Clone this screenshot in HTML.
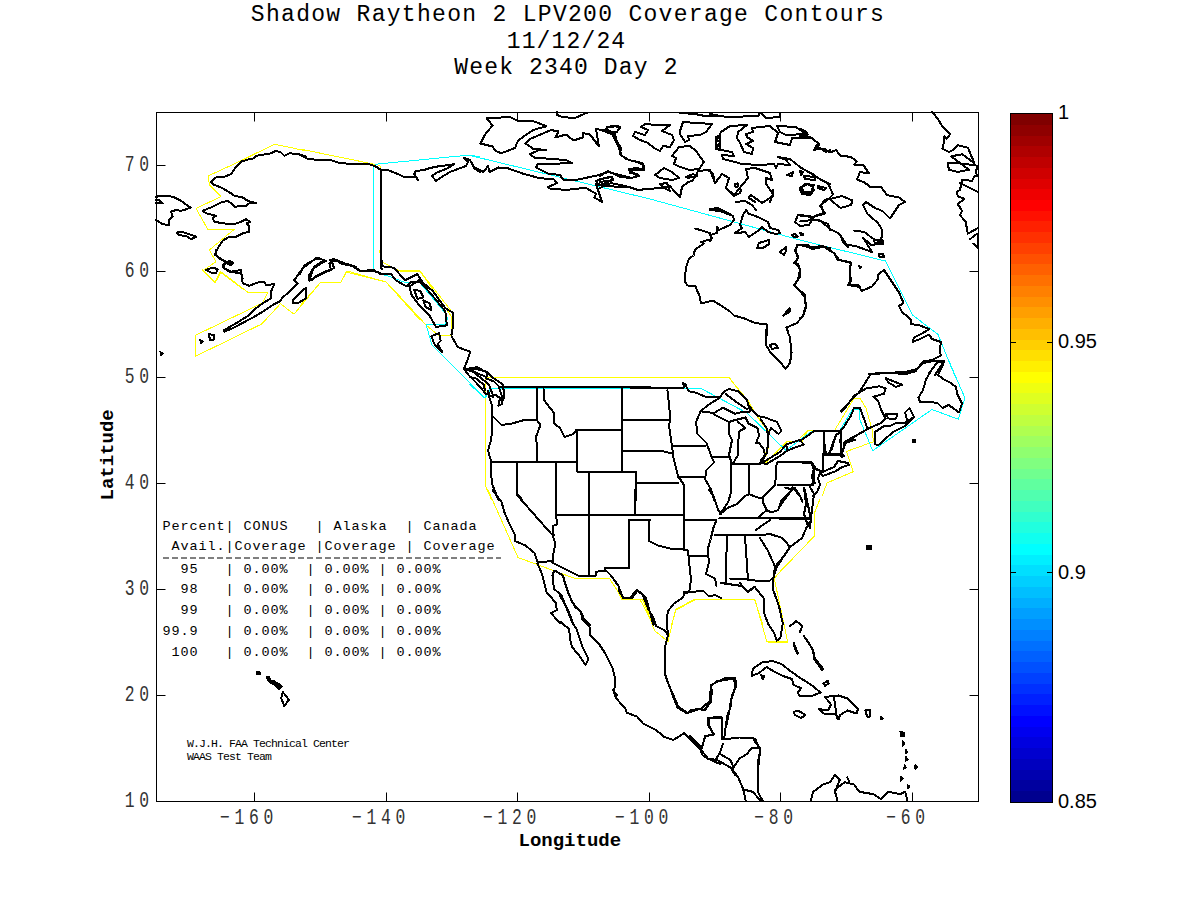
<!DOCTYPE html>
<html><head><meta charset="utf-8"><style>
html,body{margin:0;padding:0;background:#fff;width:1200px;height:900px;overflow:hidden;position:relative}
.t{position:absolute;white-space:pre;font-family:"Liberation Mono",monospace;color:#000;line-height:1}
.title{font-size:23px;letter-spacing:1.3px;left:0;width:1133px;text-align:center}
.tick{font-size:22.5px;letter-spacing:6.5px;color:#333}
.lab{font-size:19px;font-weight:bold}
.tbl{font-size:13.5px;letter-spacing:0.9px;left:162.5px}
.foot{font-size:11.5px;letter-spacing:-0.9px;left:187px}
.cb{position:absolute;font-family:"Liberation Sans",sans-serif;font-size:20px;line-height:1;left:1058px}
#bar{position:absolute;left:1010px;top:113px;width:41px;height:688px;border:1px solid #000;background:linear-gradient(to bottom,rgb(128,0,0) 0.0000%,rgb(128,0,0) 1.5625%,rgb(143,0,0) 1.5625%,rgb(143,0,0) 3.1250%,rgb(159,0,0) 3.1250%,rgb(159,0,0) 4.6875%,rgb(175,0,0) 4.6875%,rgb(175,0,0) 6.2500%,rgb(191,0,0) 6.2500%,rgb(191,0,0) 7.8125%,rgb(207,0,0) 7.8125%,rgb(207,0,0) 9.3750%,rgb(223,0,0) 9.3750%,rgb(223,0,0) 10.9375%,rgb(239,0,0) 10.9375%,rgb(239,0,0) 12.5000%,rgb(255,0,0) 12.5000%,rgb(255,0,0) 14.0625%,rgb(255,16,0) 14.0625%,rgb(255,16,0) 15.6250%,rgb(255,32,0) 15.6250%,rgb(255,32,0) 17.1875%,rgb(255,48,0) 17.1875%,rgb(255,48,0) 18.7500%,rgb(255,64,0) 18.7500%,rgb(255,64,0) 20.3125%,rgb(255,80,0) 20.3125%,rgb(255,80,0) 21.8750%,rgb(255,96,0) 21.8750%,rgb(255,96,0) 23.4375%,rgb(255,112,0) 23.4375%,rgb(255,112,0) 25.0000%,rgb(255,128,0) 25.0000%,rgb(255,128,0) 26.5625%,rgb(255,143,0) 26.5625%,rgb(255,143,0) 28.1250%,rgb(255,159,0) 28.1250%,rgb(255,159,0) 29.6875%,rgb(255,175,0) 29.6875%,rgb(255,175,0) 31.2500%,rgb(255,191,0) 31.2500%,rgb(255,191,0) 32.8125%,rgb(255,207,0) 32.8125%,rgb(255,207,0) 34.3750%,rgb(255,223,0) 34.3750%,rgb(255,223,0) 35.9375%,rgb(255,239,0) 35.9375%,rgb(255,239,0) 37.5000%,rgb(255,255,0) 37.5000%,rgb(255,255,0) 39.0625%,rgb(239,255,16) 39.0625%,rgb(239,255,16) 40.6250%,rgb(223,255,32) 40.6250%,rgb(223,255,32) 42.1875%,rgb(207,255,48) 42.1875%,rgb(207,255,48) 43.7500%,rgb(191,255,64) 43.7500%,rgb(191,255,64) 45.3125%,rgb(175,255,80) 45.3125%,rgb(175,255,80) 46.8750%,rgb(159,255,96) 46.8750%,rgb(159,255,96) 48.4375%,rgb(143,255,112) 48.4375%,rgb(143,255,112) 50.0000%,rgb(128,255,128) 50.0000%,rgb(128,255,128) 51.5625%,rgb(112,255,143) 51.5625%,rgb(112,255,143) 53.1250%,rgb(96,255,159) 53.1250%,rgb(96,255,159) 54.6875%,rgb(80,255,175) 54.6875%,rgb(80,255,175) 56.2500%,rgb(64,255,191) 56.2500%,rgb(64,255,191) 57.8125%,rgb(48,255,207) 57.8125%,rgb(48,255,207) 59.3750%,rgb(32,255,223) 59.3750%,rgb(32,255,223) 60.9375%,rgb(16,255,239) 60.9375%,rgb(16,255,239) 62.5000%,rgb(0,255,255) 62.5000%,rgb(0,255,255) 64.0625%,rgb(0,239,255) 64.0625%,rgb(0,239,255) 65.6250%,rgb(0,223,255) 65.6250%,rgb(0,223,255) 67.1875%,rgb(0,207,255) 67.1875%,rgb(0,207,255) 68.7500%,rgb(0,191,255) 68.7500%,rgb(0,191,255) 70.3125%,rgb(0,175,255) 70.3125%,rgb(0,175,255) 71.8750%,rgb(0,159,255) 71.8750%,rgb(0,159,255) 73.4375%,rgb(0,143,255) 73.4375%,rgb(0,143,255) 75.0000%,rgb(0,128,255) 75.0000%,rgb(0,128,255) 76.5625%,rgb(0,112,255) 76.5625%,rgb(0,112,255) 78.1250%,rgb(0,96,255) 78.1250%,rgb(0,96,255) 79.6875%,rgb(0,80,255) 79.6875%,rgb(0,80,255) 81.2500%,rgb(0,64,255) 81.2500%,rgb(0,64,255) 82.8125%,rgb(0,48,255) 82.8125%,rgb(0,48,255) 84.3750%,rgb(0,32,255) 84.3750%,rgb(0,32,255) 85.9375%,rgb(0,16,255) 85.9375%,rgb(0,16,255) 87.5000%,rgb(0,0,255) 87.5000%,rgb(0,0,255) 89.0625%,rgb(0,0,239) 89.0625%,rgb(0,0,239) 90.6250%,rgb(0,0,223) 90.6250%,rgb(0,0,223) 92.1875%,rgb(0,0,207) 92.1875%,rgb(0,0,207) 93.7500%,rgb(0,0,191) 93.7500%,rgb(0,0,191) 95.3125%,rgb(0,0,175) 95.3125%,rgb(0,0,175) 96.8750%,rgb(0,0,159) 96.8750%,rgb(0,0,159) 98.4375%,rgb(0,0,143) 98.4375%,rgb(0,0,143) 100.0000%)}
</style></head><body>
<div class="t title" style="top:3.5px;left:1.5px;letter-spacing:1.3px">Shadow Raytheon 2 LPV200 Coverage Contours</div>
<div class="t title" style="top:30.5px;letter-spacing:1.15px">11/12/24</div>
<div class="t title" style="top:56.5px;letter-spacing:1.15px">Week 2340 Day 2</div>
<div id="bar"></div>
<svg width="1200" height="900" style="position:absolute;left:0;top:0">
<path d="M1011 342.5h5M1052 342.5h-5M1011 572.5h5M1052 572.5h-5" stroke="#000" stroke-width="1"/>
<g fill="none" stroke-linejoin="round" stroke-linecap="round" shape-rendering="crispEdges">
<path d="M306.0 150.8 274.3 144.2 241.0 160.8 208.5 175.8 209.3 185.0 221.0 196.7 196.0 208.3 207.7 229.2 234.3 229.2 209.3 250.0 216.0 261.7 202.7 270.8 215.2 282.5 221.0 272.5 244.3 290.0M300.0 149.0 378.0 165.0 380.0 166.0 380.0 261.0 388.0 265.0 400.0 271.0 420.0 271.0 452.0 312.0 454.0 320.0M300.0 306.0 320.0 283.0 341.0 282.0 346.0 272.0 386.0 282.0 420.0 320.0M202.5 270.0 215.2 282.0 220.5 271.5 248.2 292.5 267.7 292.5 262.5 303.0 195.7 335.2 195.7 356.2 261.7 324.0 280.5 303.7 294.0 314.2 320.2 282.7 336.0 282.7M330.0 282.0 341.0 282.0 347.0 271.0 386.0 282.0 406.0 303.0 426.0 325.0 438.0 335.0 452.0 335.0 451.0 316.0 420.0 271.0 398.0 270.0 381.6 262.0 379.6 250.0M485.0 430.0 485.0 377.0 510.0 377.0M800.0 438.0 807.5 430.5 814.2 430.5 834.5 430.5 854.0 398.2 860.0 398.2 866.0 408.0 872.0 429.0 873.5 441.7 846.5 451.5 853.2 471.7 827.0 483.0 822.5 495.0M640.0 377.2 728.5 377.2 748.0 400.5 758.5 418.5 767.5 430.5 767.5 453.0 761.5 462.7 766.0 462.7 787.0 441.7 802.0 441.7 808.0 430.5 820.0 430.5M485.0 377.7 650.0 377.7M485.0 377.7 485.0 485.0 491.7 500.0M630.0 377.0 729.0 377.0 757.5 416.0 768.0 429.5 768.0 449.0 760.5 462.5 766.5 462.5 787.5 441.5 799.5 441.5 808.5 430.2 810.0 430.2M488.0 490.0 518.0 557.5 575.0 578.5 609.5 578.5 623.0 599.5 642.5 599.5 650.0 614.5M640.0 599.5 653.5 625.0M671.5 625.0 676.0 610.0 695.5 599.5 754.7 599.5 763.0 625.0M773.5 578.5 814.0 536.5 814.0 514.0 820.0 499.0M617.0 590.0 621.5 599.0 642.5 599.0 654.5 630.5 668.0 641.7 675.5 609.5 695.0 599.0 740.0 599.0M766.5 640.0 768.0 642.2 787.5 642.2 787.5 640.0M740.0 599.1 754.7 599.1 766.9 641.9 787.7 641.9 774.2 578.3 791.3 560.0" stroke="#ffff00" stroke-width="1"/>
<path d="M480.0 157.0 470.0 155.0 378.0 164.0 373.0 166.0 373.0 271.0 380.0 274.0 388.0 276.0 404.0 282.0 420.0 283.0 446.0 314.0 448.0 320.0M373.6 250.0 373.6 271.0 388.0 276.0 404.0 282.0 420.0 282.0 445.0 313.0 446.0 324.0 426.0 324.4 432.0 345.0 458.0 371.0 485.0 398.0 492.0 388.0 510.0 388.0M470.0 155.5 650.0 199.0M800.0 240.0 824.0 246.0 885.5 261.0 912.5 315.0 938.0 334.5 954.5 375.0M800.0 441.7 813.5 430.5 839.7 430.5 852.5 409.5 859.2 409.5 860.0 420.0 872.7 450.7 932.0 409.5 958.2 419.2 965.0 398.2 948.5 360.0M470.0 384.5 484.2 398.0 491.0 388.2 650.0 388.2M630.0 388.2 700.5 388.2 747.0 413.0 786.0 450.5 810.0 432.5M650.0 199.0 800.0 240.0" stroke="#00ffff" stroke-width="1"/>
<path d="M306.0 156.7 299.3 154.2 289.3 153.3 284.3 155.8 281.0 152.5 276.0 150.8 271.0 153.3 256.0 155.8 254.3 158.3 249.3 159.2 241.0 161.7 236.0 166.7 231.0 174.2 224.3 176.7 216.0 177.5 211.0 181.7 212.7 184.2 222.7 188.3 231.0 193.3 234.3 195.8 242.7 197.5 247.7 200.8 256.0 203.3 249.3 203.3 246.0 205.8 234.3 206.7 231.0 203.3 227.7 200.8 221.0 202.5 212.7 206.7 202.7 210.8 206.0 213.3 216.0 215.8 212.7 218.3 214.3 221.7 222.7 223.3 234.3 224.2 239.3 222.5 246.0 219.2 250.2 221.7 246.8 223.3 249.3 226.7 249.3 231.7 242.7 233.3 236.0 236.7 229.3 236.7 222.7 240.8 217.7 248.3 215.2 254.2 219.3 258.3 226.0 261.7 229.3 264.2 232.7 263.3 231.0 261.7 224.3 264.2 222.7 266.7 229.3 271.7 241.0 273.3 242.7 278.3M156.0 196.7 162.7 195.8 172.7 196.7 181.0 200.8 187.7 205.8 191.0 207.5 184.3 210.0 181.0 210.8 176.0 210.0 171.0 211.7 172.7 216.7 169.3 220.0 169.3 225.0 162.7 224.2 156.0 220.0M156.0 200.0 159.3 200.0 162.7 203.3 156.0 203.3M176.8 232.5 181.0 231.7 189.3 234.2 196.0 236.7 191.0 239.2 187.7 236.7 179.3 235.0ZM206.0 270.0 212.7 267.5 217.7 269.2 216.0 273.3 211.0 272.5ZM226.0 262.5 230.2 260.8 233.5 263.3 230.2 265.3ZM300.0 155.0 308.0 159.0 320.0 160.0 330.0 160.0 340.0 163.0 352.0 164.0 368.0 164.0 375.0 166.0 381.0 170.0M381.0 170.0 381.0 268.0 382.0 269.0M381.0 170.0 388.0 170.0 400.0 175.0 404.0 177.0 416.0 177.0 418.0 180.0 414.0 174.0 416.0 171.0 424.0 170.0 430.0 168.0 440.0 166.0 450.0 165.0 454.0 164.0 448.0 168.0 436.0 173.0 432.0 176.0 436.0 181.0 440.0 178.0 450.0 172.0 466.0 166.0 468.0 162.0 464.0 158.0 470.0 160.0 474.0 168.0 480.0 172.0M300.0 274.0 304.0 266.0 310.0 262.0 318.0 258.0 326.0 261.0 320.0 264.0 314.0 268.0 312.0 272.0 310.0 278.0 312.0 280.0 316.0 276.0 324.0 272.0 330.0 270.0 334.0 268.0 332.0 262.0 336.0 260.0 344.0 263.0 354.0 267.0 360.0 271.0 374.0 271.0 380.0 273.0M216.0 250.0 215.2 255.0 222.7 260.0 226.0 262.5 222.7 265.0 224.3 268.3 231.0 271.7 241.0 270.0 242.7 283.3 249.3 285.8 257.7 282.5 264.3 281.7 266.0 285.0 274.3 284.2 271.0 291.7 271.0 298.3 262.7 303.3 256.0 308.3 249.3 315.0 236.0 323.3 224.3 330.0M224.3 331.7 232.7 328.3 254.3 316.7 262.7 311.7 272.7 305.0 279.3 301.7 282.7 297.5 289.3 291.7 297.7 283.3 294.3 280.0 302.7 268.3 316.0 258.3 324.3 260.0 314.3 266.7 309.3 275.0 309.3 280.8 322.7 273.3 331.0 270.0 329.3 263.3 332.7 260.0 344.3 263.3 356.0 266.7M292.7 300.0 297.7 295.0 302.7 290.0 306.0 288.3 306.0 298.3 297.7 303.3 292.7 303.3ZM208.5 334.2 214.3 335.0 213.5 340.0 210.2 340.0ZM330.0 260.0 334.0 259.0 342.0 264.0 354.0 266.0 360.0 271.0 374.0 270.0M486.5 118.0 510.5 117.2 518.0 121.0 533.0 121.0 546.5 126.2 533.0 130.0 518.0 140.5 515.0 148.0 501.5 153.2 495.5 151.0 492.5 146.5 480.5 143.5 485.0 134.5 492.5 125.5ZM525.5 143.5 530.0 139.0 551.0 130.0 558.5 131.5 555.5 137.5 566.0 134.5 573.5 140.5 582.5 137.5 582.5 133.0 590.0 134.5 599.0 146.5 596.0 128.5 605.0 131.5 612.5 134.5 618.5 146.5 621.5 155.5 629.0 160.0 642.5 163.0 644.0 169.7 629.0 170.5 638.0 175.0 632.0 178.0 608.0 172.0 599.0 175.0 575.0 180.2 563.0 179.5 560.0 175.0 548.0 173.5 536.0 167.5 537.5 164.5 572.0 163.0 566.0 160.0 534.5 157.7 530.0 154.0 540.5 149.5 546.5 150.2 533.0 148.7ZM470.0 160.0 474.5 167.5 483.5 172.0 488.0 166.0 489.5 172.0 498.5 167.5 507.5 168.2 522.5 173.5 539.0 178.0 554.0 179.5 557.0 183.2 548.0 187.0 549.5 188.5 566.0 190.0 585.5 187.7 596.0 193.7 594.5 197.5 602.0 202.0 599.0 193.0 596.0 184.0 615.0 186.7 629.0 187.0 638.0 190.0 650.0 188.5M557.0 112.0 557.0 115.0 563.0 117.2 575.0 118.0 587.0 112.7M596.0 181.0 611.0 176.5 612.5 180.2 599.0 185.5ZM606.5 127.0 618.5 126.2 620.0 128.5 615.5 133.0 608.0 131.5ZM800.0 137.5 812.0 138.2 819.5 144.2 815.0 149.5 824.0 148.7 830.0 152.5 836.0 150.2 840.5 155.5 851.0 157.0 857.0 161.5 854.0 164.5 863.0 164.5 869.0 173.5 860.0 172.0 857.0 179.5 864.5 182.5 870.5 187.0 881.0 187.0 885.5 193.0 887.0 195.2 899.0 197.5 905.0 202.0 899.0 205.0 893.0 214.0 890.0 218.5 882.5 211.0 875.0 208.0 866.0 202.0 863.0 205.0 867.5 214.0 878.0 223.0 882.5 230.5 881.0 241.0M800.0 128.5 806.0 131.5 807.5 134.5 800.0 136.0M800.0 167.5 812.0 173.5 818.0 178.0 828.5 184.0 833.0 194.5 828.5 199.0 821.0 205.0 824.0 214.0 812.0 217.0 800.0 215.5M801.5 187.0 807.5 184.0 813.5 187.0 812.0 193.0 804.5 194.5ZM830.0 199.0 842.0 196.0 852.5 200.5 851.0 205.0 840.5 208.0 833.0 202.0ZM800.0 221.5 812.0 220.0 819.5 220.0 830.0 229.0 839.0 233.5 845.0 242.5 848.0 247.0M854.0 230.5 864.5 232.0 872.0 238.0 881.0 242.5 872.0 245.5 863.0 238.0M695.0 228.5 710.0 233.0 711.5 239.0 701.0 242.0 704.0 243.5 695.0 249.5 693.5 255.5 689.0 258.5 686.0 267.5 684.5 281.0 687.5 285.5 695.0 285.5 699.5 296.0 701.0 303.5 713.0 300.5 729.5 311.0 734.0 315.5 744.5 318.5 755.0 323.0 767.0 324.5 767.0 335.0M797.0 245.0 807.5 245.0 812.0 248.0 822.5 246.5 828.5 248.0 836.0 255.5 839.0 260.0 851.0 263.0 849.5 270.5 849.5 282.5 851.0 285.5 860.0 287.0M797.0 245.0 795.5 251.0 798.5 257.0 795.5 263.0 800.0 269.0 800.0 276.5 794.0 285.5 804.5 294.5 806.0 305.0 803.0 315.5 797.0 323.0 786.5 327.5 788.0 332.0M783.5 315.5 789.5 308.0 789.5 311.7ZM800.0 244.5 809.0 247.5 822.5 246.0 834.5 253.5 837.5 259.5 851.0 262.5 849.5 270.0 851.0 280.5 848.0 285.0 858.5 285.0 861.5 291.0 872.0 286.5 878.0 279.0 878.0 274.5 884.0 270.0 893.0 283.5 899.0 292.5 903.5 303.0 899.0 306.0 902.0 312.0 911.0 319.5 911.0 324.0 920.0 325.5 929.0 329.2 923.0 333.0 914.0 337.5 912.5 342.0 920.0 339.0 929.0 334.5 932.0 339.0 941.0 342.0 939.5 351.0 941.0 355.5 932.0 360.0 923.0 361.5 917.0 369.0 905.0 372.0 875.0 373.5 869.0 374.2M878.7 253.5 883.2 254.2 884.0 257.2 879.5 256.5ZM859.2 266.2 861.5 267.0 860.0 268.5ZM800.0 291.0 804.5 297.0 806.0 307.5 803.0 316.5 800.0 318.0M842.0 240.0 845.0 244.5 855.5 246.0 872.0 252.0 864.5 240.0M873.5 240.0 882.5 240.0 882.5 244.5 875.0 243.0ZM929.0 373.5 938.0 361.5 944.0 361.5 935.0 375.0M841.2 411.0 849.5 402.0 858.5 393.0 864.5 384.0 870.5 374.2 890.0 372.7 905.0 374.2 915.5 371.2 923.0 363.0 935.0 360.7 944.0 360.7M843.5 447.0 845.0 441.7 857.0 435.0 870.5 427.5 881.0 423.0 885.5 418.5 881.0 409.5 878.0 400.5 873.5 396.7 884.0 393.7 885.5 388.5 879.5 386.2 866.0 388.5 854.0 396.0 845.0 408.0 841.2 411.7M875.0 444.0 875.0 432.0 884.0 426.0 890.0 426.0 896.0 423.0 905.0 423.0 914.0 417.0 905.0 426.0 893.0 432.0 878.0 445.5ZM885.5 414.0 897.5 414.0 896.0 418.5 888.5 418.5ZM905.0 412.5 909.5 408.0 914.0 417.0 908.0 423.0ZM885.5 378.0 902.0 384.7 896.0 387.0 888.5 382.5ZM918.5 397.5 923.0 390.0 926.0 379.5 932.0 369.0 938.0 361.5 944.0 362.2 938.0 375.0 944.0 379.5 950.0 382.5 956.0 387.0 957.5 394.5 962.0 403.5 959.0 412.5 953.0 408.0 948.5 405.0 942.5 408.0 938.0 403.5 932.0 402.0 920.0 402.0 918.5 397.5M800.0 441.0 815.0 430.5 840.5 430.5 840.5 454.5 842.0 457.5M840.5 430.5 843.5 427.5 851.0 415.5 854.0 408.0 860.0 408.0 864.5 420.0 867.5 429.0 857.0 435.0 845.0 444.0 842.0 453.0M824.0 431.2 824.0 453.0M831.5 450.0 836.0 435.0 840.5 432.0M824.0 454.5 843.5 454.5M766.0 330.0 766.0 345.0 770.5 352.5 781.0 363.0 785.5 369.0 790.0 363.0 791.5 352.5 790.0 337.5 787.0 330.0M769.7 345.0 775.0 343.5 778.0 348.0 772.0 348.7ZM498.5 387.2 650.0 387.2M489.5 398.0 492.5 407.0 491.7 416.0 492.5 428.0 491.0 440.0 488.0 450.5 491.0 461.0 491.0 474.5 492.5 485.0 498.5 500.0M486.5 378.5 494.0 381.5 498.5 386.0 501.5 395.0 502.2 404.0 498.5 405.5 500.0 398.0 495.5 395.0 489.5 396.5 488.0 390.5 489.5 398.0M470.0 368.0 477.5 367.2 486.5 372.5 486.5 377.0 479.0 374.0 470.0 369.5M470.0 377.0 476.0 378.5 483.5 384.5 485.0 390.5M492.5 416.0 501.5 425.0 512.0 423.5 522.5 420.5 536.7 419.7 540.5 425.0 536.0 437.0 537.5 452.0 536.7 461.7M536.7 389.0 537.5 420.5M543.5 389.0 543.5 399.5 554.0 413.0 554.0 423.5 560.0 428.0 564.5 437.0 573.5 434.0 576.5 429.5 621.5 429.5M491.0 461.7 575.0 461.7M576.5 429.5 576.5 471.5 621.5 471.5M622.2 389.0 622.2 471.5M623.0 419.7 650.0 419.7M623.0 450.5 650.0 450.5M621.5 471.5 635.7 471.5 635.7 500.0M635.7 482.7 650.0 482.7M517.2 461.7 517.2 494.0 522.5 500.0M556.2 461.7 556.2 500.0M589.2 471.5 589.2 500.0M630.0 387.5 684.0 387.5 683.2 383.0 685.5 384.5 688.5 391.2 696.0 392.7 705.0 396.5 714.0 397.2 720.0 397.2M702.0 410.0 709.5 404.0 718.5 398.7 724.5 391.2 729.0 389.0 738.0 391.2 747.0 400.2 750.0 410.0M726.0 394.2 735.0 401.0 747.0 409.2M702.0 411.5 714.0 413.0 723.0 407.7 735.0 413.7 744.0 411.5 750.0 411.5M714.0 414.5 729.0 422.0 733.5 420.5 745.5 417.5 748.5 423.5M700.5 411.5 696.0 422.0 697.5 434.0 706.5 443.0 711.0 455.0 714.0 462.5 706.5 470.0 705.0 479.0 711.0 489.5 714.0 500.0M729.0 423.5 729.0 434.0 732.0 440.0 729.0 455.0 732.0 464.0M738.0 422.0 745.5 428.0 739.5 431.0 738.0 443.0 738.0 455.0 733.5 462.5M748.5 423.5 757.5 428.0 759.0 435.5 756.0 443.0 759.0 443.0 763.5 449.0 765.0 455.0 760.5 461.0M748.5 405.5 757.5 416.0 765.0 417.5 777.0 422.0 781.5 431.0 778.5 434.0 771.0 428.0 769.5 431.0 768.0 437.0M760.5 419.0 766.5 428.0 768.0 435.5 768.0 444.5 766.5 453.5 762.0 461.0M760.5 462.5 766.5 464.0 774.0 459.5 781.5 455.0 787.5 450.5 786.0 444.5 780.0 452.0 772.5 456.5 765.0 461.0ZM786.0 444.5 799.5 440.0 804.0 444.5 795.0 447.5 787.5 450.5ZM667.5 390.5 670.5 419.0 669.0 425.0 672.0 446.0 673.5 458.0 678.0 476.0 684.0 485.0 684.0 500.0M630.0 419.7 670.5 419.7M630.0 450.5 660.0 450.5 672.0 453.5M672.7 446.0 705.0 446.0M711.0 456.5 729.0 456.5M678.0 476.7 705.0 476.7M630.0 471.5 636.0 471.5 636.0 500.0M636.0 482.7 678.0 482.7M732.0 464.0 760.5 464.0M492.5 490.0 501.5 502.0 504.5 512.5 509.0 523.0 515.0 535.0 515.0 541.0 525.5 545.5 534.5 553.0 537.5 562.0 552.5 561.2M516.5 490.0 516.5 494.5 551.0 533.5 554.0 535.0M556.2 490.0 556.2 515.5 557.0 524.5 552.5 526.0 552.5 535.0 555.5 544.0 554.0 550.0 552.5 559.0 552.5 562.0M556.2 514.7 650.0 514.7M589.2 490.0 589.2 575.5M629.0 520.0 629.0 568.0 605.0 568.0 605.0 571.0 596.0 571.7 596.0 575.5 578.0 575.5 552.5 562.7M629.7 520.0 650.0 520.0M648.5 520.0 648.5 541.0M605.0 569.5 611.0 575.5 618.5 586.0 623.0 598.0 632.0 598.0 636.5 592.0M537.5 563.5 542.0 574.0 546.5 592.0 555.5 602.5 557.0 610.0 551.0 613.0 560.0 623.5M554.0 571.0 552.5 575.5 554.0 589.0 561.5 595.0 566.0 607.0 572.0 622.0M555.5 571.0 563.0 575.5 564.5 581.5 569.0 595.0 575.0 607.0 581.0 611.5 584.0 619.0 590.0 625.0M635.0 490.0 635.0 514.7M640.0 514.7 684.2 514.7M640.0 520.0 649.0 520.0 649.0 541.0 658.0 545.5 670.0 548.5 683.5 549.2 688.0 550.7M684.2 490.0 684.2 550.0M685.0 520.0 716.5 520.0M689.5 556.0 707.5 556.0M688.0 550.7 691.0 580.0 689.5 590.5M716.5 520.0 713.5 527.5 710.5 539.5 707.5 550.0 709.0 562.0 706.0 574.0 715.0 578.5 716.5 586.0M719.5 518.5 745.0 517.7 808.0 517.7M715.0 535.0 758.5 535.0 770.5 534.2 782.5 538.0 790.0 547.0M760.0 538.0 767.5 550.0 775.0 566.5 773.5 578.5M790.0 547.0 784.0 556.0 776.5 565.0 773.5 577.0M790.0 547.0 802.0 538.0 806.5 527.5 811.0 520.0 808.0 505.0 805.0 490.0M727.0 536.5 725.5 584.5M745.0 536.5 748.0 580.0 769.0 581.5 772.0 578.5M730.0 578.5 746.5 579.2M683.5 592.0 692.5 592.0 703.0 590.5 709.0 596.5 715.0 595.0 721.0 598.0M721.0 583.0 731.5 584.5 742.0 586.0 748.0 592.0 754.0 587.5M640.0 592.0 646.0 598.0 653.5 625.0M709.0 490.0 713.5 496.0 718.0 509.5 721.0 514.0M567.5 590.0 572.0 602.0 581.0 612.5 582.5 620.0 590.0 627.5 590.0 635.0 599.0 644.0 605.0 653.0 612.5 668.0 615.5 680.0 614.0 692.0 617.0 695.0M560.0 596.0 564.5 603.5 569.0 612.5 573.5 624.5 576.5 629.0 578.0 633.5 582.5 647.0 588.5 659.0 585.5 665.0 579.5 656.0 572.0 647.0 570.5 641.0 569.0 629.0 560.0 621.5M618.5 590.0 623.0 597.5 630.5 597.5 636.5 590.0M636.5 590.0 642.5 594.5 648.5 609.5 653.0 617.0 656.0 626.0 665.0 630.5 668.0 635.0M668.0 635.0 666.5 620.0 668.0 611.0 674.0 603.5 683.0 597.5 684.5 593.0 690.5 592.2M668.0 635.0 665.0 647.0 665.0 674.0 668.0 683.0 678.5 707.0 687.5 713.0 701.0 708.5 710.0 701.0 711.5 686.0 716.0 681.5 734.0 678.5 735.5 687.5 731.0 699.5 729.5 710.0 726.5 725.0M708.5 725.0 708.5 717.5 722.0 717.5 722.0 725.0M690.0 710.5 702.0 709.0 705.0 710.5 709.5 703.0 711.0 685.0 724.5 678.2 735.0 678.2 736.5 685.0 732.0 695.5 730.5 707.5 727.5 715.0 726.0 724.0 724.5 736.0 723.0 739.0M709.5 718.0 721.5 717.2 721.5 739.0M709.5 718.0 708.0 724.0 714.0 734.5 705.0 736.0 702.0 748.0 690.0 736.0M721.5 739.0 727.5 739.0 739.5 737.5 753.0 737.5 756.0 743.5 760.5 748.0 759.0 760.0 757.5 775.0M690.0 736.0 702.0 751.0 708.0 758.5 717.0 760.0 730.5 767.5 735.0 775.0M723.0 743.5 720.0 752.5 715.5 760.0M720.0 754.0 730.5 760.0 733.5 767.5 739.5 758.5 747.0 754.0 751.5 748.0 760.5 748.0M751.5 676.0 753.0 668.5 762.0 662.5 772.5 661.0 781.5 664.0 789.0 670.0 799.5 677.5 811.5 685.0 820.5 692.5 813.0 695.5 799.5 696.2 798.0 692.5 801.0 688.0 793.5 685.0 792.0 679.0 783.0 676.0 774.0 671.5 766.5 667.0 759.0 673.0ZM761.2 675.2 764.2 676.0 762.7 679.0ZM793.5 712.0 798.0 710.5 805.5 715.0 801.0 718.0 795.0 715.0ZM819.0 709.0 828.0 710.5 831.0 704.5 825.0 697.0 838.5 695.5 847.5 698.5 858.0 709.0 856.5 713.5 847.5 710.5 840.0 715.0 838.5 719.5 835.5 713.5 823.5 713.5ZM834.0 697.0 837.0 718.0M865.5 710.5 870.0 709.7 870.0 716.5 867.0 716.5ZM793.5 643.0 795.0 649.0 798.0 653.5M807.0 640.0 813.0 650.5 814.5 659.5 822.0 670.0M823.5 683.5 828.0 680.5 828.7 683.5 825.0 685.7ZM731.1 767.7 738.3 777.3 743.2 789.4 745.6 800.3M755.2 738.7 760.1 750.7 757.7 762.8 757.7 791.8 762.5 800.3M743.2 789.4 752.8 791.8 760.1 800.3M810.8 800.3 813.2 791.8 822.9 784.6 830.2 782.2 835.0 774.9 839.8 779.7 835.0 791.8 837.4 800.3M835.0 789.4 844.7 782.2 854.3 784.6 859.2 791.8 873.7 794.2 880.9 799.1 888.2 791.8 900.2 794.2 905.1 791.8 907.5 800.3M847.1 777.3 849.5 782.2M613.3 690.0 616.0 698.0 625.3 708.7 626.7 712.7 637.3 716.7 642.7 723.3 656.0 730.0 664.0 736.7 673.3 740.0 684.0 733.3 700.0 748.7 702.7 755.3 708.0 758.7 720.0 764.0M670.7 690.0 677.3 707.3 686.7 713.3 697.3 708.7 704.0 710.0 710.7 702.0 712.0 690.0M720.0 716.7 708.0 718.0 708.0 724.7 713.3 734.0 705.3 736.7 701.3 748.7M740.0 583.2 747.3 591.8 754.7 586.9 764.4 599.1 764.4 613.8 768.1 623.6 774.2 633.3 776.7 640.7 780.3 638.2 782.8 623.6 779.1 606.5 773.0 589.3 773.0 578.3 776.7 567.3 781.6 560.0M790.1 626.0 796.2 621.1 802.3 626.0 799.9 632.1M803.6 635.8 808.5 643.1 813.3 650.5 814.6 657.8 823.1 668.8M793.8 643.1 796.2 649.2 797.5 654.1M282.8 692.0 289.0 699.8 284.3 706.0 281.2 698.2ZM780.0 461.5 812.0 463.0 815.0 469.0 820.0 471.0M813.0 471.0 812.0 478.0 815.0 483.0 810.0 485.0M823.0 454.0 823.0 470.0 820.0 473.0 818.0 478.0 820.0 485.0 817.0 492.0 813.0 496.0M824.0 440.0 826.0 454.0M834.0 440.0 829.0 454.0M840.0 440.0 842.0 453.0M824.0 454.0 842.0 454.0 844.0 456.0M820.0 473.0 834.0 467.0 838.0 461.0 848.0 463.0 849.0 465.0 842.0 467.0 836.0 471.0 823.0 476.0ZM804.0 488.0 806.0 504.0 804.0 514.0 808.0 526.0M810.0 487.0 814.0 494.0 812.0 510.0 810.0 528.0M780.0 506.0 793.0 488.0 800.0 496.0M780.0 519.0 809.0 519.0M844.0 443.0 855.0 440.0M749.2 464.2 749.2 493.3M730.8 460.0 730.8 493.3 728.3 501.7 720.0 514.2M720.0 514.2 728.3 507.5 736.7 504.2 745.0 495.8 749.2 494.2 757.5 497.5 762.5 497.5 763.3 503.3 766.7 510.0 771.7 512.5 778.3 510.0 781.7 500.0 792.5 490.0 795.0 487.5M762.5 497.5 770.0 490.0 775.0 485.0 775.8 476.7 776.7 462.5M777.5 485.0 813.3 485.0M785.0 487.5 790.8 489.2 792.5 487.5 795.0 488.3 800.0 495.8 802.5 501.7M720.0 518.3 807.5 518.3M757.5 518.3 766.7 510.0M755.8 530.0 770.0 520.0M813.3 485.0 814.2 470.8 811.7 463.3M778.3 461.7 811.7 462.5 815.8 468.3 820.0 470.8M600.0 130.0 606.0 130.0 613.0 132.0 616.0 137.0 617.0 142.0 621.0 148.0 620.0 154.0 626.0 159.0 640.0 163.0 644.0 166.0 643.0 170.0 638.0 168.0 629.0 169.0 630.0 173.0 637.0 174.0 639.0 176.0 631.0 178.0 620.0 177.0 608.0 171.0 603.0 174.0 600.0 176.0M606.0 128.5 611.0 126.0 620.0 127.0 617.0 132.0 610.0 131.5ZM633.0 136.0 635.0 132.0 645.0 135.0 648.0 130.0 641.0 127.0 645.0 124.0 656.0 125.0 670.0 125.0 662.0 131.0 672.0 135.0 674.0 140.0 670.0 147.0 663.0 146.0 660.0 151.0 654.0 148.0 648.0 143.0 640.0 140.0ZM680.0 131.0 683.0 122.0 712.0 124.0 706.0 132.0 700.0 135.0 688.0 136.0 689.0 140.0 685.0 142.0 680.0 134.0ZM672.0 156.0 679.0 147.0 690.0 146.0 696.0 151.0 704.0 162.0 699.0 169.0 690.0 170.0 680.0 167.0 674.0 164.0 676.0 158.0ZM655.0 175.0 664.0 168.0 672.0 172.0 679.0 178.0 672.0 180.0 660.0 178.0ZM600.0 188.0 611.0 183.0 625.0 186.0 638.0 190.0 660.0 188.0 670.0 186.0 674.0 191.0 680.0 197.0 682.0 187.0 688.0 182.0 692.0 181.0 696.0 176.0 698.0 171.0 708.0 170.0 713.0 174.0 715.0 183.0 720.0 177.0M686.0 177.0 693.0 174.0 697.0 176.0 688.0 178.0ZM660.0 184.0 667.0 183.0 670.0 191.0 664.0 188.0ZM680.0 113.0 695.0 114.0 705.0 116.0 720.0 116.0M716.0 137.0 720.0 135.0 720.0 150.0 716.0 149.0ZM600.0 179.0 612.0 177.0 613.0 180.0 600.0 182.0ZM716.0 149.0 720.0 142.0 717.0 140.0 721.0 132.0 730.0 126.0 747.0 125.0 738.0 132.0 737.0 138.0 740.0 143.0 744.0 152.0 752.0 154.0 753.0 148.0 746.0 144.0 753.0 141.0 747.0 137.0 746.0 134.0 753.0 132.0 752.0 128.0 770.0 126.0 778.0 133.0 775.0 142.0 790.0 145.0 792.0 138.0 810.0 137.0 818.0 143.0 814.0 150.0 820.0 148.0 826.0 152.0 830.0 150.0M716.0 149.0 732.0 152.0 734.0 156.0 722.0 155.0 723.0 159.0 735.0 162.0 742.0 164.0 760.0 165.0 774.0 164.0 776.0 168.0 778.0 164.0 790.0 165.0 786.0 160.0 778.0 157.0 790.0 159.0 800.0 167.0 810.0 173.0 818.0 178.0 830.0 184.0M777.0 126.0 796.0 127.0 806.0 134.0 786.0 135.0 780.0 132.0ZM710.0 114.0 720.0 116.0 728.0 117.0 758.0 116.0 760.0 113.0M762.0 114.0 766.0 118.0 780.0 117.0 780.0 113.0M710.0 170.0 715.0 183.0 722.0 174.0 729.0 178.0 726.0 188.0 734.0 195.0 743.0 184.0 748.0 178.0 746.0 169.0 755.0 168.0 770.0 173.0 772.0 180.0 766.0 178.0 766.0 184.0 773.0 194.0 770.0 202.0M735.0 184.0 737.5 183.5 738.0 186.5 735.5 187.0ZM787.0 175.0 793.0 172.0 792.0 176.0ZM800.0 188.0 805.0 184.0 814.0 185.0 811.0 192.0 802.0 192.0ZM800.0 171.0 803.0 172.0 801.0 175.0ZM804.0 176.0 815.0 177.0 815.0 180.0 805.0 179.0ZM818.0 186.0 826.0 188.0 824.0 190.0 818.0 188.0ZM749.0 198.0 755.0 202.0M710.0 209.0 718.0 208.0 726.0 212.0 733.0 216.0 734.0 220.0 730.0 225.0 719.0 230.0 717.0 227.0 717.0 233.0 710.0 235.0 712.0 238.0 710.0 241.0M710.0 210.0 720.0 209.0 730.0 215.0 720.0 211.0ZM735.0 233.0 742.0 228.0 740.0 225.0 743.0 215.0 746.0 210.0 749.0 214.0 753.0 215.0 760.0 218.0 768.0 222.0 770.0 228.0 778.0 230.0 780.0 233.0 776.0 234.0 768.0 232.0 762.0 227.0 759.0 230.0 749.0 237.0 745.0 232.0 738.0 233.0ZM736.0 202.0 745.0 201.0 752.0 205.0 756.0 210.0M749.0 197.0 751.0 195.0 762.0 203.0 773.0 196.0 773.0 190.0M728.0 190.0 734.0 196.0 740.0 193.0 741.0 190.0M757.0 248.0 759.0 243.0 769.0 240.0 769.0 244.0 763.0 248.0ZM780.0 252.0 786.0 247.0 786.0 251.0 784.0 255.0ZM792.0 235.0 795.0 234.0 798.0 236.5 794.0 237.0ZM800.0 233.0 803.0 234.0 803.5 235.5 801.0 235.0ZM798.0 279.0 800.0 270.0 798.0 264.0 794.0 263.0 798.0 258.0 795.0 250.0 798.0 245.0 806.0 246.0 812.0 249.0 822.0 247.0 830.0 248.0M795.0 222.0 798.0 215.0 810.0 216.0 812.0 220.0 809.0 225.0 800.0 226.0ZM812.0 219.0 817.0 215.0 825.0 213.0 820.0 206.0 825.0 200.0 830.0 198.0M816.0 220.0 820.0 221.0 828.0 224.0 830.0 230.0M800.0 190.0 802.0 194.0 810.0 195.0 814.0 190.0M932.2 112.0 937.8 118.7 942.2 126.4 950.0 134.2 946.7 138.7 944.4 136.4 943.3 145.3 942.2 148.7 948.9 152.0 953.3 149.8 957.8 145.3 967.8 147.6 974.4 163.1 962.2 154.2 951.1 156.4 968.9 169.8 957.8 172.0 948.9 169.8 947.8 163.1 957.8 163.1 975.6 165.3 977.8 166.4 975.6 172.0 977.8 176.4 974.4 176.4 972.2 180.9 962.2 179.8 960.0 189.8 956.7 192.0 957.8 196.4 964.4 198.7 957.8 204.2 962.2 210.9 960.0 215.3 965.6 221.4 967.8 233.7 977.8 228.1M960.0 183.1 977.8 192.0M970.0 239.2 975.6 234.8 977.8 233.7 977.8 248.1 973.3 243.7M381.6 260.0 381.6 266.2 394.0 267.8 404.9 280.2 417.3 274.0 423.5 283.3 432.9 291.1 445.3 308.2 453.1 312.9 453.1 325.3 451.5 334.7M380.0 274.0 390.9 274.0 395.6 280.2 406.4 286.4 411.1 281.8 418.9 281.8M409.5 286.4 418.9 280.2 431.3 294.2 445.3 311.3 446.9 325.3 436.0 326.9 429.8 316.0 418.9 305.1 411.1 294.2ZM414.2 289.5 420.4 291.1 423.5 297.3 417.3 298.9ZM423.5 300.4 429.8 303.5 431.3 309.8 425.1 306.7ZM431.3 336.2 439.1 333.1 440.7 340.9 437.5 344.0 442.2 351.8 434.4 344.0ZM451.5 336.2 457.8 347.1 470.2 351.8 467.1 361.1 464.0 368.9 476.4 368.9 487.3 372.0 493.5 378.2 502.9 384.4 504.4 396.9 502.9 400.0M464.0 368.9 473.3 372.0 481.1 378.2 488.9 384.4 493.5 396.9 485.8 393.7 476.4 382.9 467.1 373.5Z" stroke="#000" stroke-width="2"/>
<path d="M226.8 261.3 231.8 262.0 231.0 264.7 227.3 264.2ZM199.7 340.0 203.5 341.3 201.0 343.0ZM160.2 351.7 163.0 353.3 160.7 355.3ZM912.5 440.2 915.5 440.2 915.5 442.5 912.5 442.5ZM880.9 716.9 882.8 718.4 880.9 719.8ZM900.2 731.4 903.9 732.6 903.9 736.2 900.7 736.2ZM902.7 741.1 904.6 743.5 902.7 745.9ZM905.6 749.5 907.5 752.0 905.6 753.6ZM905.8 756.8 908.0 759.2 905.8 760.9ZM904.6 764.8 906.3 767.7 903.9 768.9ZM915.2 764.8 917.2 767.2 915.2 768.9ZM900.7 776.8 903.1 778.8 900.7 781.0ZM907.5 785.1 909.9 786.0 908.0 788.2ZM867.0 546.0 871.0 546.0 871.0 549.0 867.0 549.0ZM256.3 671.8 259.8 671.8 259.8 674.5 256.3 674.5ZM266.4 677.2 268.8 676.4 271.1 680.3 274.2 681.1 279.7 684.2 282.4 686.5 278.9 689.3 273.4 684.2 269.5 682.7Z" stroke="#000" stroke-width="1.5" fill="#000"/>

</g>
<rect x="156.5" y="112.5" width="822" height="689" fill="none" stroke="#000" stroke-width="1"/>
<path d="M163 558H501" stroke="#000" stroke-width="1" stroke-dasharray="6 3"/>
<path d="M254.5 801.5V792.5M254.5 112.5V121.5M386.5 801.5V792.5M386.5 112.5V121.5M517.5 801.5V792.5M517.5 112.5V121.5M649.5 801.5V792.5M649.5 112.5V121.5M780.5 801.5V792.5M780.5 112.5V121.5M912.5 801.5V792.5M912.5 112.5V121.5M156.5 695.5H165.5M978.5 695.5H969.5M156.5 589.5H165.5M978.5 589.5H969.5M156.5 483.5H165.5M978.5 483.5H969.5M156.5 377.5H165.5M978.5 377.5H969.5M156.5 271.5H165.5M978.5 271.5H969.5M156.5 165.5H165.5M978.5 165.5H969.5" stroke="#000" stroke-width="1" fill="none"/>
</svg>
<div class="t tick" style="left:189.2px;width:120px;text-align:center;top:806.5px;transform:scaleX(0.727);transform-origin:60px 0">&#8722;160</div><div class="t tick" style="left:321.2px;width:120px;text-align:center;top:806.5px;transform:scaleX(0.727);transform-origin:60px 0">&#8722;140</div><div class="t tick" style="left:452.2px;width:120px;text-align:center;top:806.5px;transform:scaleX(0.727);transform-origin:60px 0">&#8722;120</div><div class="t tick" style="left:584.2px;width:120px;text-align:center;top:806.5px;transform:scaleX(0.727);transform-origin:60px 0">&#8722;100</div><div class="t tick" style="left:715.8px;width:120px;text-align:center;top:806.5px;transform:scaleX(0.727);transform-origin:60px 0">&#8722;80</div><div class="t tick" style="left:848.2px;width:120px;text-align:center;top:806.5px;transform:scaleX(0.727);transform-origin:60px 0">&#8722;60</div><div class="t tick" style="left:60px;width:93.9px;text-align:right;top:789.5px;transform:scaleX(0.727);transform-origin:100% 0">10</div><div class="t tick" style="left:60px;width:93.9px;text-align:right;top:683.5px;transform:scaleX(0.727);transform-origin:100% 0">20</div><div class="t tick" style="left:60px;width:93.9px;text-align:right;top:577.5px;transform:scaleX(0.727);transform-origin:100% 0">30</div><div class="t tick" style="left:60px;width:93.9px;text-align:right;top:471.6px;transform:scaleX(0.727);transform-origin:100% 0">40</div><div class="t tick" style="left:60px;width:93.9px;text-align:right;top:365.6px;transform:scaleX(0.727);transform-origin:100% 0">50</div><div class="t tick" style="left:60px;width:93.9px;text-align:right;top:259.6px;transform:scaleX(0.727);transform-origin:100% 0">60</div><div class="t tick" style="left:60px;width:93.9px;text-align:right;top:153.6px;transform:scaleX(0.727);transform-origin:100% 0">70</div>
<div class="t lab" style="left:518.5px;top:832px">Longitude</div>
<div class="t lab" style="left:64.5px;top:448px;transform:rotate(-90deg);transform-origin:center;width:86px;text-align:center">Latitude</div>
<div class="t tbl" style="top:519.65px">Percent| CONUS   | Alaska  | Canada</div><div class="t tbl" style="top:540.45px"> Avail.|Coverage |Coverage | Coverage</div><div class="t tbl" style="top:562.55px">  95   | 0.00%  | 0.00% | 0.00%</div><div class="t tbl" style="top:583.15px">  98   | 0.00%  | 0.00% | 0.00%</div><div class="t tbl" style="top:603.85px">  99   | 0.00%  | 0.00% | 0.00%</div><div class="t tbl" style="top:624.85px">99.9   | 0.00%  | 0.00% | 0.00%</div><div class="t tbl" style="top:645.95px"> 100   | 0.00%  | 0.00% | 0.00%</div>
<div class="t foot" style="top:737.5px">W.J.H. FAA Technical Center</div>
<div class="t foot" style="top:750.5px">WAAS Test Team</div>
<div class="cb" style="top:102px">1</div>
<div class="cb" style="top:331px">0.95</div>
<div class="cb" style="top:562px">0.9</div>
<div class="cb" style="top:790.5px">0.85</div>
</body></html>
